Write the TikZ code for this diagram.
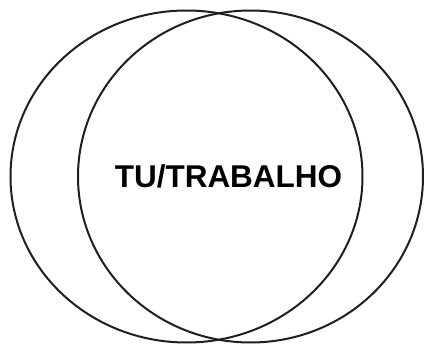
\documentclass[tikz,border=0pt]{standalone}
\usepackage{fontspec}
\setmainfont{Liberation Sans}
\begin{document}
\begin{tikzpicture}[x=1pt,y=-1pt,
  ringline/.style={draw=black!88, line width=2pt}]
\useasboundingbox (0,0) rectangle (424,345);
\draw[ringline] (186.5,176.5) ellipse [x radius=176, y radius=166];
\draw[ringline] (250.5,176.5) ellipse [x radius=172.5, y radius=166];
\node[font=\bfseries\fontsize{31.5}{36}\selectfont] (t) at (228.5,176) {TU/TRABALHO};
\end{tikzpicture}
\end{document}
